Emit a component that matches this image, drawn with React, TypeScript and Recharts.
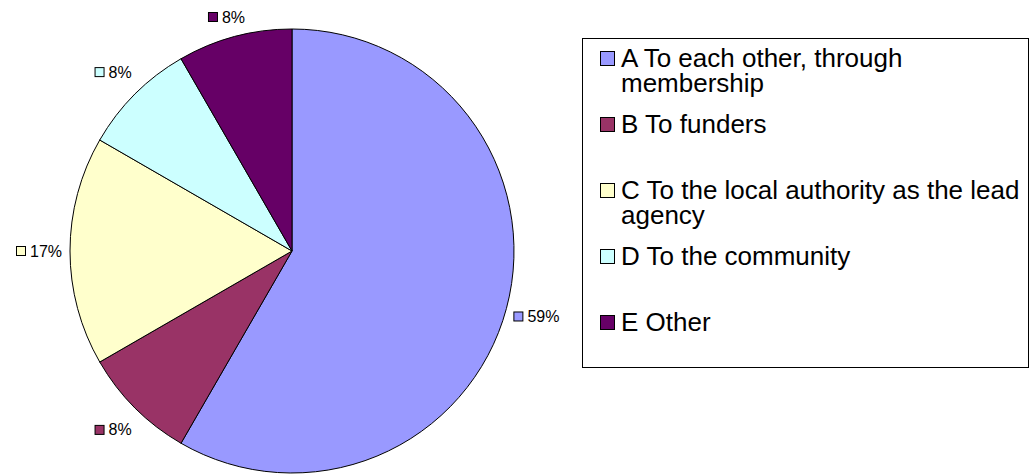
import React from 'react';
import { PieChart, Pie, Cell, Legend } from 'recharts';

const categories = [
  'A To each other, through membership',
  'B To funders',
  'C To the local authority as the lead agency',
  'D To the community',
  'E Other',
];
const counts = [7, 1, 2, 1, 1];
const percentLabels = ['59%', '8%', '17%', '8%', '8%'];
const colors = ['#9999FF', '#993366', '#FFFFCC', '#CCFFFF', '#660066'];

const data = categories.map((name, i) => ({ name, value: counts[i] }));

const FONT = '"Liberation Sans", Arial, sans-serif';
const RADIAN = Math.PI / 180;

// little coloured key square + percentage, centred on a point outside the slice
const renderLabel = (props: any) => {
  const { cx, cy, midAngle, outerRadius, index } = props;
  const r = outerRadius + 31;
  const px = cx + r * Math.cos(-midAngle * RADIAN);
  let py = cy + r * Math.sin(-midAngle * RADIAN);
  if (py < 17) py = 17;
  const text = percentLabels[index];
  const textW = (text.length - 1) * 8.9 + 14.2;
  const left = px - (14 + textW) / 2;
  return (
    <g key={`lbl-${index}`}>
      <rect x={left + 0.5} y={py - 4.5} width={9} height={9} fill={colors[index]} stroke="#000" />
      <text x={left + 14} y={py} dominantBaseline="central" fontSize={16} fontFamily={FONT} fill="#000">
        {text}
      </text>
    </g>
  );
};

const renderLegend = () => (
  <div
    style={{
      width: 445,
      height: 328,
      border: '1px solid #000',
      background: '#fff',
      fontFamily: FONT,
      fontSize: 26,
      lineHeight: '25px',
      color: '#000',
      overflow: 'hidden',
    }}
  >
    {categories.map((c, i) => (
      <div
        key={c}
        style={{ height: 66, display: 'flex', alignItems: 'flex-start', paddingLeft: 17, paddingTop: 6.5, boxSizing: 'border-box' }}
      >
        <span
          style={{ width: 13, height: 13, border: '1px solid #000', background: colors[i], marginTop: 5, flexShrink: 0 }}
        />
        <span style={{ marginLeft: 6, width: 406 }}>{c}</span>
      </div>
    ))}
  </div>
);

export default function App() {
  return (
    <div style={{ position: 'absolute', left: 0, top: 0, width: 1034, height: 475, background: '#fff' }}>
      <PieChart width={1034} height={475} margin={{ top: 0, right: 0, bottom: 0, left: 0 }}>
        <Pie
          data={data}
          dataKey="value"
          nameKey="name"
          cx={292}
          cy={251}
          outerRadius={222}
          startAngle={90}
          endAngle={-270}
          stroke="#000"
          strokeWidth={1}
          label={renderLabel}
          labelLine={false}
          isAnimationActive={false}
        >
          {data.map((d, i) => (
            <Cell key={d.name} fill={colors[i]} />
          ))}
        </Pie>
        <Legend
          layout="vertical"
          align="right"
          verticalAlign="top"
          content={renderLegend}
          wrapperStyle={{ left: 582, top: 38, width: 447, right: 'auto' }}
        />
      </PieChart>
    </div>
  );
}
